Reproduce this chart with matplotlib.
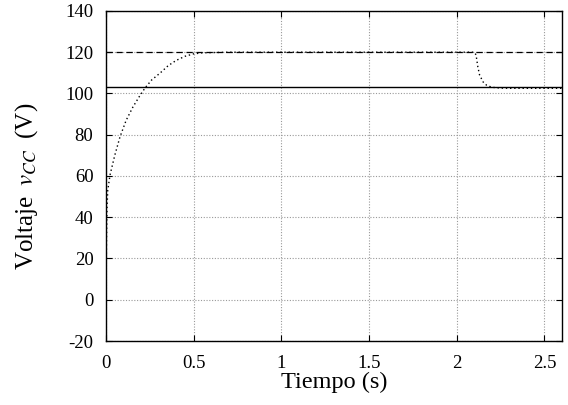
import matplotlib
matplotlib.use("Agg")
import matplotlib.pyplot as plt

plt.rcParams['font.family'] = ['Liberation Serif', 'DejaVu Serif']
plt.rcParams['mathtext.fontset'] = 'stix'
plt.rcParams['axes.unicode_minus'] = False

# Measured DC voltage (dotted)
t_vals = [0.0, 0.003, 0.006, 0.01, 0.023, 0.05, 0.08, 0.115, 0.154, 0.19, 0.223, 0.26, 0.31,
          0.355, 0.4, 0.45, 0.5, 0.55, 0.7, 1.0, 1.3, 1.6, 1.9, 2.05, 2.1, 2.11, 2.12,
          2.13, 2.15, 2.17, 2.2, 2.25, 2.3, 2.4, 2.6]
v_vals = [0.0, 30.0, 45.0, 53.0, 60.5, 70.0, 79.0, 87.0, 93.5, 98.5, 102.7, 106.5, 110.0,
          113.5, 116.0, 118.0, 119.2, 119.7, 120.0, 120.0, 120.0, 120.0, 120.0, 120.0, 120.0,
          118.7, 113.0, 109.0, 105.6, 104.0, 103.0, 102.6, 102.5, 102.5, 102.5]

# Reference levels
ref_high = 120
ref_low = 103

xticks = [0, 0.5, 1, 1.5, 2, 2.5]
xtick_labels = ['0', '0.5', '1', '1.5', '2', '2.5']
yticks = [-20, 0, 20, 40, 60, 80, 100, 120, 140]

fig = plt.figure(figsize=(5.68, 4.05), dpi=100)
ax = fig.add_axes([0.1866, 0.158, 0.8028, 0.815])

ax.axhline(ref_high, color='black', linestyle=(0, (5, 3)), linewidth=0.9)
ax.axhline(ref_low, color='black', linestyle='-', linewidth=1.0)
ax.plot(t_vals, v_vals, color='black', linestyle=(0, (1, 2)), linewidth=1.0)

ax.set_xlim(0, 2.6)
ax.set_ylim(-20, 140)
ax.set_xticks(xticks)
ax.set_xticklabels(xtick_labels)
ax.set_yticks(yticks)
ax.grid(True, color='#999999', linestyle=(0, (1, 1.5)), linewidth=0.8)
ax.tick_params(direction='in', top=True, right=True, labelsize=13.5, length=4)
ax.tick_params(axis='y', pad=9)
ax.tick_params(axis='x', pad=10)
for s in ax.spines.values():
    s.set_linewidth(1.0)

ax.set_xlabel('Tiempo (s)', fontsize=17.5, labelpad=0)
ax.set_ylabel(r'Voltaje $\;v_{CC}\;$ (V)', fontsize=18)
ax.yaxis.set_label_coords(-0.145, 0.47)

fig.savefig('out.png', dpi=100)
